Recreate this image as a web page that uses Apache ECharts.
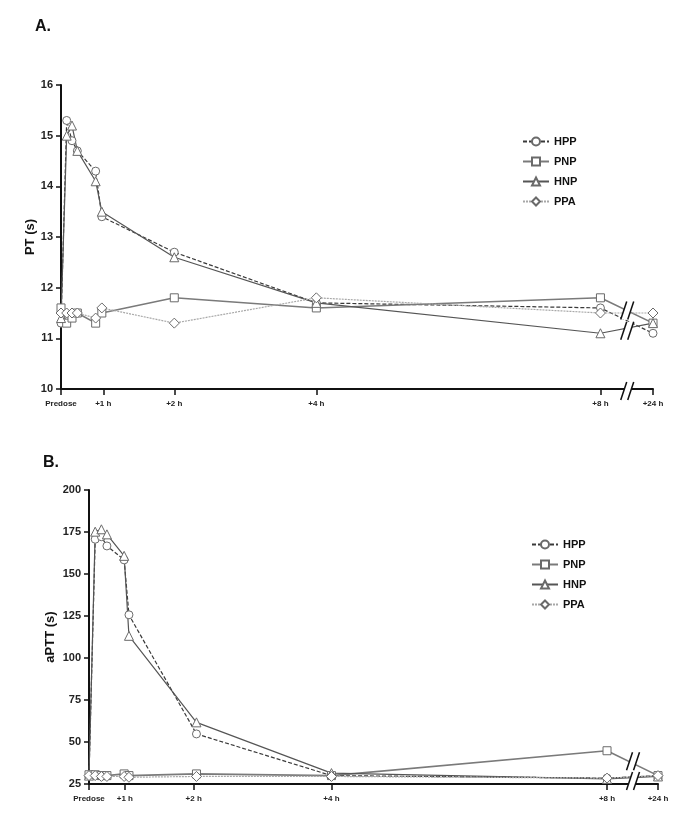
<!DOCTYPE html>
<html>
<head>
<meta charset="utf-8">
<script src="https://cdn.jsdelivr.net/npm/echarts@6/dist/echarts.min.js"></script>
<style>
  html, body { margin: 0; padding: 0; background: #fff; }
  #chart { width: 685px; height: 824px; }
</style>
</head>
<body>
<div id="chart"></div>
<script>
// time axis (hours); predose sits left of +1 h, +24 h is squeezed after the break
const timeLabels = ['Predose', '+1 h', '+2 h', '+4 h', '+8 h', '+24 h'];
const tickPosA = [0.405, 1, 2, 4, 8, 8.74];
const tickPosB = [0.48, 1, 2, 4, 8, 8.74];
const sampleXA = [0.405, 0.485, 0.56, 0.635, 0.893, 0.98, 2, 4, 8, 8.74];
const sampleXB = [0.48, 0.57, 0.66, 0.74, 0.99, 1.06, 2.04, 4, 8, 8.74];
const breakX = 8.37;

// A. PT (s)
const ptHPP = [11.3, 15.3, 14.9, 14.7, 14.3, 13.4, 12.7, 11.7, 11.6, 11.1];
const ptPNP = [11.6, 11.3, 11.4, 11.5, 11.3, 11.5, 11.8, 11.6, 11.8, 11.3];
const ptHNP = [11.4, 15.0, 15.2, 14.7, 14.1, 13.5, 12.6, 11.7, 11.1, 11.3];
const ptPPA = [11.5, 11.5, 11.5, 11.5, 11.4, 11.6, 11.3, 11.8, 11.5, 11.5];

// B. aPTT (s)
const apttHPP = [30, 170.7, 172.2, 166.7, 158.4, 125.7, 54.8, 30, 28.5, 30];
const apttPNP = [30.5, 30.5, 30, 30, 31, 30, 31, 30, 44.8, 30];
const apttHNP = [30, 175.2, 176.6, 173.6, 160.8, 113.2, 61.7, 31.5, 28, 29.5];
const apttPPA = [30, 30, 29.5, 29.5, 29.5, 29, 29.5, 29.5, 28.5, 30];

const groups = ['HPP', 'PNP', 'HNP', 'PPA'];

const chart = echarts.init(document.getElementById('chart'));
const font = 'Liberation Sans, Arial, sans-serif';

const styles = {
  HPP: { symbol: 'circle', symbolSize: 8, line: { color: '#3a3a3a', width: 1.2, type: [4, 2] } },
  PNP: { symbol: 'rect', symbolSize: 8, line: { color: '#7a7a7a', width: 1.6, type: 'solid' } },
  HNP: { symbol: 'triangle', symbolSize: 9, line: { color: '#555', width: 1.2, type: 'solid' } },
  PPA: { symbol: 'diamond', symbolSize: 10, line: { color: '#a8a8a8', width: 1.2, type: [2, 1] } }
};

function pairs(xs, ys) {
  return xs.map((x, i) => [x, ys[i]]);
}

function makeSeries(name, xs, ys, idx) {
  const s = styles[name];
  return {
    name: name,
    type: 'line',
    xAxisIndex: idx,
    yAxisIndex: idx,
    data: pairs(xs, ys),
    symbol: s.symbol,
    symbolSize: s.symbolSize,
    lineStyle: s.line,
    itemStyle: { color: '#fff', borderColor: '#6a6a6a', borderWidth: 1 },
    emphasis: { disabled: true },
    animation: false
  };
}

function xAxis(idx, ticks) {
  return {
    type: 'value',
    gridIndex: idx,
    min: ticks[0],
    max: ticks[ticks.length - 1],
    axisLine: { lineStyle: { color: '#111', width: 2 } },
    axisTick: { customValues: ticks, length: 6, lineStyle: { color: '#111', width: 1.5 } },
    axisLabel: {
      customValues: ticks,
      formatter: (v) => {
        let best = 0;
        ticks.forEach((t, i) => { if (Math.abs(t - v) < Math.abs(ticks[best] - v)) best = i; });
        return timeLabels[best];
      },
      fontFamily: font, fontWeight: 'bold', fontSize: 8, color: '#222', margin: 11
    },
    splitLine: { show: false }
  };
}

function yAxis(idx, min, max, step, name, gap) {
  return {
    type: 'value',
    gridIndex: idx,
    min: min,
    max: max,
    interval: step,
    name: name,
    nameLocation: 'middle',
    nameGap: gap,
    nameMoveOverlap: false,
    nameTextStyle: { fontFamily: font, fontWeight: 'bold', fontSize: 13, color: '#111' },
    axisLine: { show: true, lineStyle: { color: '#111', width: 2 } },
    axisTick: { show: true, length: 5, lineStyle: { color: '#111', width: 1.5 } },
    axisLabel: { fontFamily: font, fontWeight: 'bold', fontSize: 11, color: '#222', margin: 8 },
    splitLine: { show: false }
  };
}

function legend(left, top) {
  return {
    orient: 'vertical',
    left: left,
    top: top,
    itemWidth: 26,
    itemHeight: 10,
    itemGap: 9,
    data: groups,
    textStyle: { fontFamily: font, fontWeight: 'bold', fontSize: 11, color: '#111' }
  };
}

const option = {
  animation: false,
  title: [
    { text: 'A.', left: 30, top: 14, textStyle: { fontFamily: font, fontWeight: 'bold', fontSize: 16, color: '#111' } },
    { text: 'B.', left: 38, top: 450, textStyle: { fontFamily: font, fontWeight: 'bold', fontSize: 16, color: '#111' } }
  ],
  legend: [legend(517, 131), legend(526, 534)],
  grid: [
    { left: 61, top: 85, width: 592, height: 304 },
    { left: 89, top: 490, width: 569, height: 294 }
  ],
  xAxis: [xAxis(0, tickPosA), xAxis(1, tickPosB)],
  yAxis: [
    yAxis(0, 10, 16, 1, 'PT (s)', 24),
    yAxis(1, 25, 200, 25, 'aPTT (s)', 32)
  ],
  series: [
    makeSeries('HPP', sampleXA, ptHPP, 0),
    makeSeries('PNP', sampleXA, ptPNP, 0),
    makeSeries('HNP', sampleXA, ptHNP, 0),
    makeSeries('PPA', sampleXA, ptPPA, 0),
    makeSeries('HPP', sampleXB, apttHPP, 1),
    makeSeries('PNP', sampleXB, apttPNP, 1),
    makeSeries('HNP', sampleXB, apttHNP, 1),
    makeSeries('PPA', sampleXB, apttPPA, 1)
  ]
};
chart.setOption(option);

// "//" break marks on the x axis and across the lines between +8 h and +24 h
function breakMark(p) {
  const cx = p[0], cy = p[1];
  return [
    { type: 'polygon', shape: { points: [[cx - 6, cy + 9], [cx, cy - 9], [cx + 7, cy - 9], [cx + 1, cy + 9]] },
      style: { fill: '#fff' }, z: 100 },
    { type: 'line', shape: { x1: cx - 6, y1: cy + 9, x2: cx, y2: cy - 9 },
      style: { stroke: '#111', lineWidth: 1.5 }, z: 101 },
    { type: 'line', shape: { x1: cx + 1, y1: cy + 9, x2: cx + 7, y2: cy - 9 },
      style: { stroke: '#111', lineWidth: 1.5 }, z: 101 }
  ];
}

const marks = [
  chart.convertToPixel({ gridIndex: 0 }, [breakX, 11.55]),
  chart.convertToPixel({ gridIndex: 0 }, [breakX, 11.15]),
  chart.convertToPixel({ gridIndex: 0 }, [breakX, 10]),
  chart.convertToPixel({ gridIndex: 1 }, [breakX, 38.5]),
  chart.convertToPixel({ gridIndex: 1 }, [breakX, 25])
];
marks[2][1] += 2;
marks[4][1] -= 3;
chart.setOption({ graphic: marks.flatMap(breakMark) });
</script>
</body>
</html>
